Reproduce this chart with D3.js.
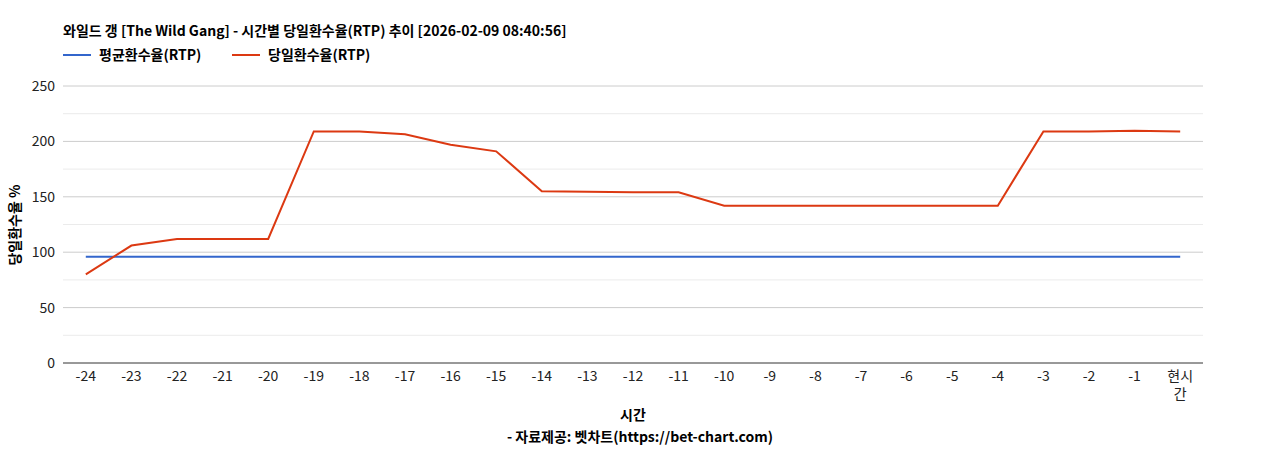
<!DOCTYPE html>
<html><head><meta charset="utf-8">
<script src="https://cdn.jsdelivr.net/npm/d3@7"></script>
<style>body{margin:0;background:#fff;font-family:"Noto Sans CJK KR","Noto Sans",sans-serif}</style>
</head><body><svg id="c" width="1268" height="450"></svg>
<script>
const categories=["-24","-23","-22","-21","-20","-19","-18","-17","-16","-15","-14","-13","-12","-11","-10","-9","-8","-7","-6","-5","-4","-3","-2","-1","현시간"];
const avgRTP=[96,96,96,96,96,96,96,96,96,96,96,96,96,96,96,96,96,96,96,96,96,96,96,96,96];
const dayRTP=[80,106,112,112,112,209,209,206.5,197,191,155,154.5,154,154,142,142,142,142,142,142,142,209,209,209.5,209];
const yTicks=[0,50,100,150,200,250];
const svg=d3.select("#c");
const L=63,R=1203,T=86,B=363;
const x=d3.scaleBand().domain(categories).range([L,R]);
const y=d3.scaleLinear().domain([0,250]).range([B,T]);
const f="'Noto Sans CJK KR','Noto Sans',sans-serif";
// minor grid
d3.range(25,250,50).forEach(v=>svg.append("line").attr("x1",L).attr("x2",R).attr("y1",y(v)).attr("y2",y(v)).attr("stroke","#ebebeb"));
yTicks.forEach(v=>{
 svg.append("line").attr("x1",L).attr("x2",R).attr("y1",y(v)).attr("y2",y(v)).attr("stroke",v==0?"#333":"#ccc");
 svg.append("text").attr("x",L-8).attr("y",y(v)+5).attr("text-anchor","end").attr("font-size",14).attr("font-family",f).attr("fill","#222").text(v);
});
categories.forEach(c=>{
 const cx=x(c)+x.bandwidth()/2;
 if(c==="현시간"){
  svg.append("text").attr("x",cx).attr("y",381).attr("text-anchor","middle").attr("font-size",14).attr("font-family",f).attr("fill","#222").text("현시");
  svg.append("text").attr("x",cx).attr("y",399).attr("text-anchor","middle").attr("font-size",14).attr("font-family",f).attr("fill","#222").text("간");
 } else svg.append("text").attr("x",cx).attr("y",381).attr("text-anchor","middle").attr("font-size",14).attr("font-family",f).attr("fill","#222").text(c);
});
const line=d3.line().x((d,i)=>x(categories[i])+x.bandwidth()/2).y(d=>y(d));
svg.append("path").attr("d",line(avgRTP)).attr("fill","none").attr("stroke","#3366cc").attr("stroke-width",2);
svg.append("path").attr("d",line(dayRTP)).attr("fill","none").attr("stroke","#dc3912").attr("stroke-width",2);
svg.append("text").attr("x",63).attr("y",36).attr("font-size",14).attr("font-weight","bold").attr("font-family",f).attr("fill","#000").text("와일드 갱 [The Wild Gang] - 시간별 당일환수율(RTP) 추이 [2026-02-09 08:40:56]");
svg.append("line").attr("x1",63).attr("x2",91).attr("y1",55).attr("y2",55).attr("stroke","#3366cc").attr("stroke-width",2);
svg.append("text").attr("x",99).attr("y",60).attr("font-size",14).attr("font-weight","bold").attr("font-family",f).text("평균환수율(RTP)");
svg.append("line").attr("x1",232).attr("x2",260).attr("y1",55).attr("y2",55).attr("stroke","#dc3912").attr("stroke-width",2);
svg.append("text").attr("x",268).attr("y",60).attr("font-size",14).attr("font-weight","bold").attr("font-family",f).text("당일환수율(RTP)");
svg.append("text").attr("x",633).attr("y",420).attr("text-anchor","middle").attr("font-size",14).attr("font-weight","bold").attr("font-family",f).text("시간");
svg.append("text").attr("x",640).attr("y",442).attr("text-anchor","middle").attr("font-size",14).attr("font-weight","bold").attr("font-family",f).text("- 자료제공: 벳차트(https://bet-chart.com)");
svg.append("text").attr("transform","translate(20,225) rotate(-90)").attr("text-anchor","middle").attr("font-size",14).attr("font-weight","bold").attr("font-family",f).text("당일환수율 %");
</script></body></html>
